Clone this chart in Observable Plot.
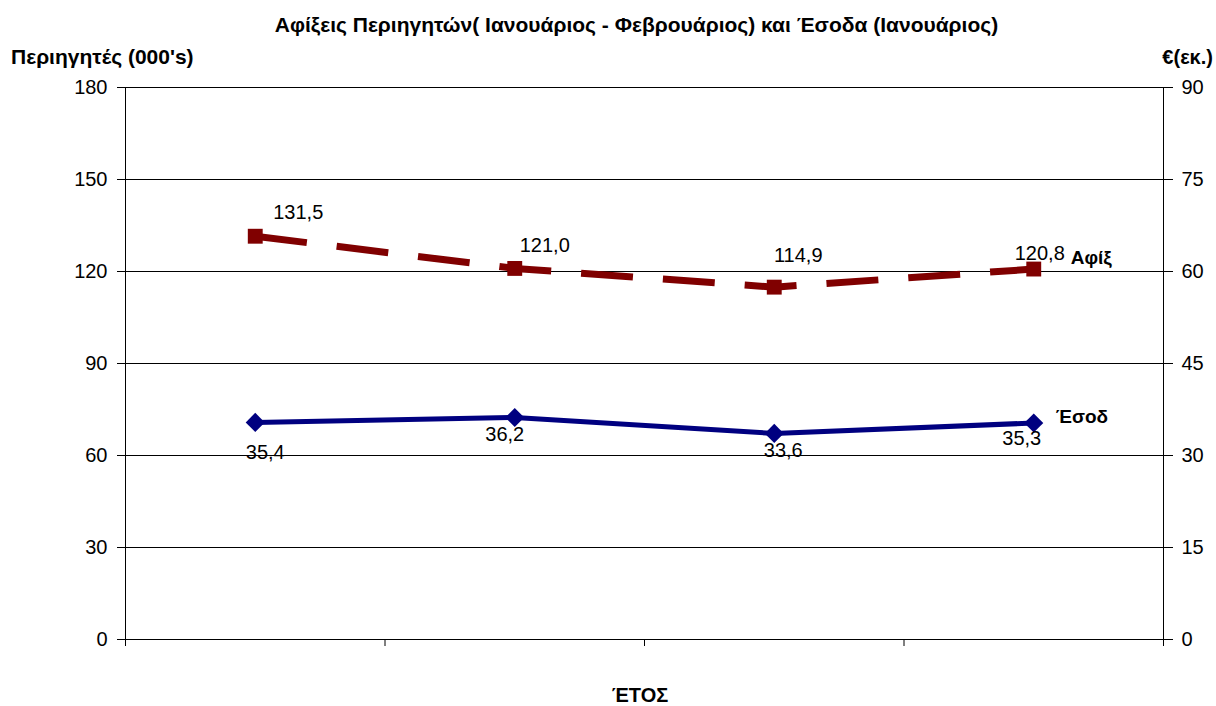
<!DOCTYPE html>
<html>
<head>
<meta charset="utf-8">
<script src="https://cdn.jsdelivr.net/npm/d3@7"></script>
<script src="https://cdn.jsdelivr.net/npm/@observablehq/plot@0.6"></script>
<style>
  html, body { margin: 0; padding: 0; background: #fff; }
  #wrap { position: relative; width: 1216px; height: 706px; font-family: "Liberation Sans", Arial, sans-serif; color: #000; }
  .t { position: absolute; white-space: nowrap; font-weight: bold; line-height: 1; }
</style>
</head>
<body>
<div id="wrap">
  <div class="t" id="title" style="left:0;width:1273px;text-align:center;top:14px;font-size:21px;">Αφίξεις Περιηγητών( Ιανουάριος - Φεβρουάριος) και Έσοδα (Ιανουάριος)</div>
  <div class="t" style="left:11px;top:46px;font-size:21px;">Περιηγητές (000's)</div>
  <div class="t" style="right:3px;top:47px;font-size:20px;">€(εκ.)</div>
  <div class="t" style="left:0;width:1280px;text-align:center;top:685px;font-size:20px;">ΈΤΟΣ</div>
</div>
<script>
// Data
const periods = [0, 1, 2, 3];               // four years (no tick labels shown in the original)
const arrivals = [131.5, 121.0, 114.9, 120.8]; // Περιηγητές (000's), left axis
const revenue = [35.4, 36.2, 33.6, 35.3];     // € (εκ.), right axis
const leftTicks = [0, 30, 60, 90, 120, 150, 180];
const arrivalsName = "Αφίξ";
const revenueName = "Έσοδ";

const ratio = 2; // left axis max 180 / right axis max 90
const fmt = v => d3.format(".1f")(v).replace(".", ",");

const arrRows = periods.map((p, i) => ({x: p, y: arrivals[i], v: arrivals[i]}));
const revRows = periods.map((p, i) => ({x: p, y: revenue[i] * ratio, v: revenue[i]}));

const red = "#800000", navy = "#000080";
const font = "Liberation Sans, Arial, sans-serif";

// label offsets (styling)
const arrOff = [[43, -24], [30, -23], [24, -32], [6, -15]];
const revOff = [[10, 30], [-10, 17], [9, 17], [-12, 16]];

const chart = Plot.plot({
  width: 1216,
  height: 706,
  marginLeft: 125,
  marginRight: 53,
  marginTop: 87,
  marginBottom: 67,
  style: {fontFamily: font, fontSize: "20px", color: "#000", background: "transparent", overflow: "visible"},
  x: {type: "linear", domain: [-0.5, periods.length - 0.5]},
  y: {domain: [0, 180]},
  marks: [
    Plot.gridY(leftTicks, {stroke: "#000", strokeOpacity: 1, strokeWidth: 1}),
    Plot.ruleX([-0.5, periods.length - 0.5], {y1: 0, y2: 180, stroke: "#000", strokeWidth: 1}),
    Plot.ruleY([0], {stroke: "#000", strokeWidth: 1}),
    Plot.axisY({ticks: leftTicks, tickSize: 8, tickPadding: 10, label: null, fontSize: 20}),
    Plot.axisY({anchor: "right", ticks: leftTicks, tickFormat: d => d / ratio, tickSize: 9, tickPadding: 9, label: null, fontSize: 20}),
    Plot.axisX({ticks: d3.range(periods.length + 1).map(i => i - 0.5), tickFormat: () => "", tickSize: 7, label: null}),
    Plot.line(arrRows, {x: "x", y: "y", stroke: red, strokeWidth: 7, strokeDasharray: "52,30", strokeLinecap: "butt"}),
    Plot.dot(arrRows, {x: "x", y: "y", symbol: "square", r: 8.4, fill: red, stroke: "none"}),
    Plot.line(revRows, {x: "x", y: "y", stroke: navy, strokeWidth: 5}),
    Plot.dot(revRows, {x: "x", y: "y", symbol: "diamond2", r: 8.6, fill: navy, stroke: "none"}),
    ...arrOff.map(([dx, dy], i) => Plot.text([arrRows[i]], {x: "x", y: "y", text: d => fmt(d.v), dx, dy, fontSize: 20, fill: "#000"})),
    ...revOff.map(([dx, dy], i) => Plot.text([revRows[i]], {x: "x", y: "y", text: d => fmt(d.v), dx, dy, fontSize: 20, fill: "#000"})),
    Plot.text([arrRows[arrRows.length - 1]], {x: "x", y: "y", text: () => arrivalsName, dx: 37, dy: -11, textAnchor: "start", fontWeight: "bold", fontSize: 19, fill: "#000"}),
    Plot.text([revRows[revRows.length - 1]], {x: "x", y: "y", text: () => revenueName, dx: 22, dy: -6, textAnchor: "start", fontWeight: "bold", fontSize: 19, fill: "#000"})
  ]
});
chart.style.position = "absolute";
chart.style.left = "0";
chart.style.top = "0";
document.getElementById("wrap").appendChild(chart);
</script>
</body>
</html>
